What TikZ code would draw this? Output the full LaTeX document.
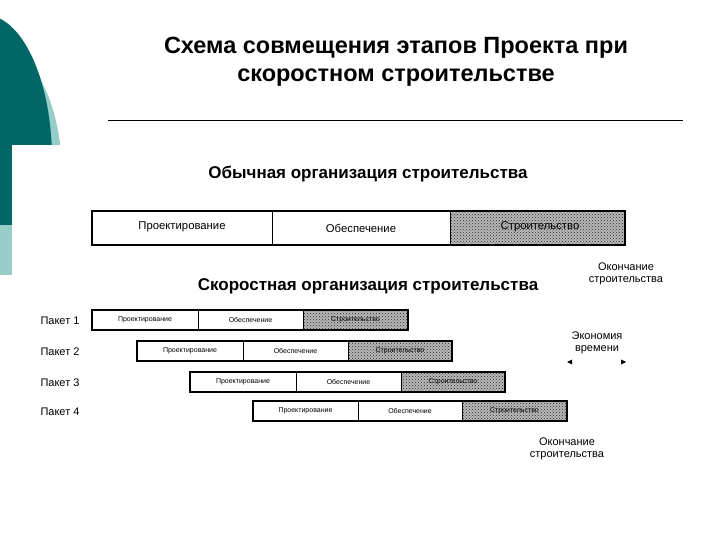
\documentclass[tikz,border=0pt]{standalone}
\usepackage{fontspec}
\setmainfont{Liberation Sans}
\usetikzlibrary{patterns}
\definecolor{dteal}{RGB}{0,102,102}
\definecolor{lteal}{RGB}{150,205,200}
\begin{document}
\begin{tikzpicture}[x=1pt,y=-1pt,
  lbl/.style={font=\fontsize{7}{8}\selectfont},
  pk/.style={font=\fontsize{11}{12}\selectfont,anchor=west},
  note/.style={font=\fontsize{11}{12}\selectfont,align=center}]
\useasboundingbox (0,0) rectangle (720,540);
% decoration
\fill[lteal] (-5,175) ellipse [x radius=67,y radius=130];
\fill[dteal] (-15,160) ellipse [x radius=67,y radius=145];
\fill[white] (12,145) rectangle (80,330);
\fill[white] (0,275) rectangle (12,330);
\fill[lteal] (0,225) rectangle (12,275);
% title
\node[font=\bfseries\fontsize{23.5}{28}\selectfont,align=center] (title) at (396,62) {Схема совмещения этапов Проекта при\\скоростном строительстве};
\draw[line width=0.6pt] (108,120) coordinate (l1) -- (683,120) coordinate (l2);
\node[font=\bfseries\fontsize{17}{18}\selectfont] (h1) at (368,174) {Обычная организация строительства};
\node[font=\bfseries\fontsize{17}{18}\selectfont] (h2) at (368,286) {Скоростная организация строительства};
% main bar
\fill[gray!55] (450,211) rectangle (625,245);
\fill[pattern=crosshatch dots,pattern color=black!85] (450,211) rectangle (625,245);
\draw[line width=1.6pt] (92,211) rectangle (625,245);
\draw[line width=0.7pt] (272,211) -- (272,245) (450,211) -- (450,245);
\node[font=\fontsize{11.3}{12}\selectfont] (a1) at (182,227) {Проектирование};
\node[font=\fontsize{11.3}{12}\selectfont] (a2) at (361,228) {Обеспечение};
\node[font=\fontsize{11.3}{12}\selectfont] (a3) at (540,227) {Строительство};
% packets
\foreach \n/\x/\y/\da/\db/\e in {1/92/310/198/303/408, 2/137/341/243/348/452, 3/190/372/296/401/505, 4/253/401/358/462/567}{
  \fill[gray!55] (\db,\y) rectangle (\e,\y+20);
  \fill[pattern=crosshatch dots,pattern color=black!85] (\db,\y) rectangle (\e,\y+20);
  \draw[line width=1.3pt] (\x,\y) rectangle (\e,\y+20);
  \draw[line width=0.6pt] (\da,\y) -- (\da,\y+20) (\db,\y) -- (\db,\y+20);
  \node[lbl] (p\n a) at ({(\x+\da)/2},\y+10) {Проектирование};
  \node[lbl] (p\n b) at ({(\da+\db)/2},\y+10) {Обеспечение};
  \node[lbl] (p\n c) at ({(\db+\e)/2},\y+10) {Строительство};
  \node[pk] (pk\n) at (37,\y+11) {Пакет \n};
}
\node[note] (o1) at (626,274) {Окончание\\строительства};
\node[note] (ek) at (597,343) {Экономия\\времени};
\coordinate (e1) at (567,362); \coordinate (e2) at (626,362);
\fill (e1) -- ++(5,-2.5) -- ++(0,5) -- cycle;
\fill (e2) -- ++(-5,-2.5) -- ++(0,5) -- cycle;
\node[note] (o2) at (567,449) {Окончание\\строительства};
\end{tikzpicture}
\end{document}
